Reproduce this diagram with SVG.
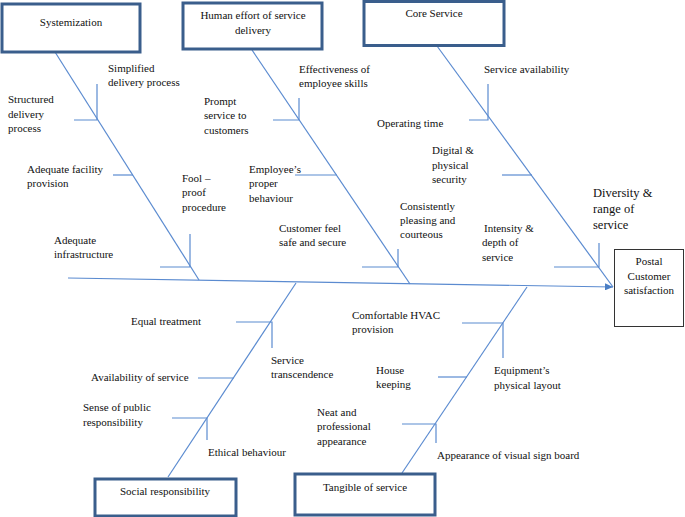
<svg xmlns="http://www.w3.org/2000/svg" width="685" height="517" viewBox="0 0 685 517">
<style>
.box{fill:#fff;stroke:#3a5e8c;stroke-width:3}
.eff{fill:#fff;stroke:#333;stroke-width:1}
.t{font-family:"Liberation Serif","Times New Roman",serif;font-size:11px;fill:#111}
.c{text-anchor:middle}
.big{font-size:12.5px}
.ln{stroke:#5b8bd0;stroke-width:1.2;fill:none}
</style>
<defs>
<marker id="ah" markerWidth="8" markerHeight="7" refX="8" refY="3.5" orient="auto" markerUnits="userSpaceOnUse">
<path d="M0,0 L8,3.5 L0,7 Z" fill="#4a7ec4"/>
</marker>
</defs>
<rect width="685" height="517" fill="#fff"/>
<g id="connectors">
<path class="ln" d="M68,278 L613,287" marker-end="url(#ah)"/>
<path class="ln" d="M55,52 L199,280"/>
<path class="ln" d="M252,50 L410,284"/>
<path class="ln" d="M437,46 L613,287"/>
<path class="ln" d="M168,477 L296,283"/>
<path class="ln" d="M402,473 L527,287"/>
<path class="ln" d="M97,84 V120 H74"/>
<path class="ln" d="M113,175 H133"/>
<path class="ln" d="M190,234 V267 H160"/>
<path class="ln" d="M299,98 V120 H273"/>
<path class="ln" d="M295,175 H337"/>
<path class="ln" d="M398,249 V267 H362"/>
<path class="ln" d="M488,84 V120 H469"/>
<path class="ln" d="M502,175 H532"/>
<path class="ln" d="M599,243 V267 H554"/>
<path class="ln" d="M236,322 H272 V348"/>
<path class="ln" d="M198,378 H234"/>
<path class="ln" d="M172,418 H207 V440"/>
<path class="ln" d="M462,323 H503 V358"/>
<path class="ln" d="M438,377 H467"/>
<path class="ln" d="M402,424 H436 V443"/>
</g>
<g id="systemization">
<rect class="box" x="2" y="4" width="138" height="48"/>
<text class="t c" x="71" y="26">Systemization</text>
</g>
<g id="human-effort">
<rect class="box" x="183" y="3" width="139" height="46"/>
<text class="t c" x="253" y="19">Human effort of service</text>
<text class="t c" x="253" y="34">delivery</text>
</g>
<g id="core-service">
<rect class="box" x="364" y="1.5" width="140" height="44"/>
<text class="t c" x="434" y="17">Core Service</text>
</g>
<g id="social-responsibility">
<rect class="box" x="95" y="479" width="141" height="37"/>
<text class="t c" x="165" y="495">Social responsibility</text>
</g>
<g id="tangible-of-service">
<rect class="box" x="295" y="474" width="140" height="41"/>
<text class="t c" x="365" y="491">Tangible of service</text>
</g>
<g id="postal-customer-satisfaction">
<rect class="eff" x="614.5" y="249.5" width="69" height="77"/>
<text class="t c" x="649" y="265">Postal</text>
<text class="t c" x="649" y="280">Customer</text>
<text class="t c" x="649" y="294">satisfaction</text>
</g>
<g id="labels">
<text class="t" x="108" y="72">Simplified</text>
<text class="t" x="108" y="86">delivery process</text>
<text class="t" x="8" y="103">Structured</text>
<text class="t" x="8" y="118">delivery</text>
<text class="t" x="8" y="132">process</text>
<text class="t" x="27" y="173">Adequate facility</text>
<text class="t" x="27" y="187">provision</text>
<text class="t" x="182" y="182">Fool –</text>
<text class="t" x="182" y="196">proof</text>
<text class="t" x="182" y="211">procedure</text>
<text class="t" x="54" y="244">Adequate</text>
<text class="t" x="54" y="258">infrastructure</text>
<text class="t" x="299" y="73">Effectiveness of</text>
<text class="t" x="299" y="87">employee skills</text>
<text class="t" x="204" y="105">Prompt</text>
<text class="t" x="204" y="119">service to</text>
<text class="t" x="204" y="134">customers</text>
<text class="t" x="249" y="173">Employee’s</text>
<text class="t" x="249" y="187">proper</text>
<text class="t" x="249" y="202">behaviour</text>
<text class="t" x="279" y="232">Customer feel</text>
<text class="t" x="279" y="246">safe and secure</text>
<text class="t" x="484" y="73">Service availability</text>
<text class="t" x="377" y="127">Operating time</text>
<text class="t" x="432" y="154">Digital &amp;</text>
<text class="t" x="432" y="169">physical</text>
<text class="t" x="432" y="183">security</text>
<text class="t" x="400" y="210">Consistently</text>
<text class="t" x="400" y="224">pleasing and</text>
<text class="t" x="400" y="238">courteous</text>
<text class="t" x="484" y="232">Intensity &amp;</text>
<text class="t" x="482" y="246">depth of</text>
<text class="t" x="482" y="261">service</text>
<text class="t big" x="593" y="197">Diversity &amp;</text>
<text class="t big" x="593" y="213">range of</text>
<text class="t big" x="593" y="229">service</text>
<text class="t" x="131" y="325">Equal treatment</text>
<text class="t" x="271" y="364">Service</text>
<text class="t" x="271" y="378">transcendence</text>
<text class="t" x="91" y="381">Availability of service</text>
<text class="t" x="83" y="411">Sense of public</text>
<text class="t" x="83" y="426">responsibility</text>
<text class="t" x="208" y="456">Ethical behaviour</text>
<text class="t" x="352" y="319">Comfortable HVAC</text>
<text class="t" x="352" y="333">provision</text>
<text class="t" x="376" y="374">House</text>
<text class="t" x="376" y="388">keeping</text>
<text class="t" x="494" y="374">Equipment’s</text>
<text class="t" x="494" y="389">physical layout</text>
<text class="t" x="317" y="416">Neat and</text>
<text class="t" x="317" y="430">professional</text>
<text class="t" x="317" y="445">appearance</text>
<text class="t" x="437" y="459">Appearance of visual sign board</text>
</g>
</svg>
